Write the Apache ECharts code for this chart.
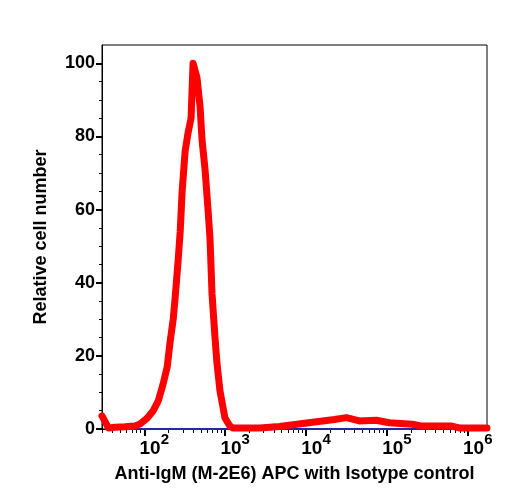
<!DOCTYPE html>
<html>
<head>
<meta charset="utf-8">
<script src="https://cdn.jsdelivr.net/npm/echarts@6/dist/echarts.min.js"></script>
<style>
  html, body { margin: 0; padding: 0; background: #fff; }
  #chart { width: 508px; height: 500px; }
</style>
</head>
<body>
<div id="chart"></div>
<script>
// fluorescence intensity (log scale) and relative cell number
const redX = [30, 36, 44, 58, 77, 89, 109, 129, 149, 171, 192, 209, 228, 241, 262, 278, 294, 320, 348, 379,
  401, 449, 490, 518, 564, 614, 650, 688, 749, 792, 863, 995, 1146, 1248, 1521, 2685, 4732, 9080, 16000,
  22500, 31600, 45700, 74000, 107000, 206000, 273000, 638000, 780000, 1730000]
const redY = [3.6, 0.3, 0.5, 0.6, 0.8, 1.4, 3.0, 5.0, 7.7, 12.3, 17, 24, 30, 36, 46, 54, 65, 76, 81, 85,
  100, 96, 88, 79, 71, 60, 52, 37, 25, 18, 10.4, 3.0, 0.8, 0.3, 0.3, 0.3, 0.7, 1.5, 2.2,
  2.6, 3.1, 2.2, 2.4, 1.7, 1.3, 0.8, 0.8, 0.3, 0.3]

// isotype control, almost flat on the baseline
const blueX = [30, 34, 40, 100, 1000, 10000, 100000, 1730000]
const blueY = [2.5, 0.5, 0, 0, 0, 0, 0, 0]

const xMajorTicks = [100, 1000, 10000, 100000, 1000000]
const xMinorTicks = [30, 40, 50, 60, 70, 80, 90,
  200, 300, 400, 500, 600, 700, 800, 900,
  2000, 3000, 4000, 5000, 6000, 7000, 8000, 9000,
  20000, 30000, 40000, 50000, 60000, 70000, 80000, 90000,
  200000, 300000, 400000, 500000, 600000, 700000, 800000, 900000]
const yMajorTicks = [0, 20, 40, 60, 80, 100]
const yMinorTicks = [5, 10, 15, 25, 30, 35, 45, 50, 55, 65, 70, 75, 85, 90, 95]

const font = 'Liberation Sans, Arial, sans-serif'

const chart = echarts.init(document.getElementById('chart'))
chart.setOption({
  animation: false,
  grid: {
    left: 102,
    right: 21,
    top: 45,
    bottom: 71,
    show: true,
    borderColor: '#000',
    borderWidth: 1
  },
  xAxis: [{
    type: 'log',
    min: 30,
    max: 1730000,
    name: 'Anti-IgM (M-2E6) APC with Isotype control',
    nameLocation: 'middle',
    nameGap: 36,
    nameTextStyle: { fontFamily: font, fontWeight: 'bold', fontSize: 18, color: '#000' },
    axisLine: { lineStyle: { color: '#000', width: 1 } },
    axisTick: { customValues: xMajorTicks, length: 7, lineStyle: { color: '#000', width: 2 } },
    splitLine: { show: false },
    axisLabel: {
      customValues: xMajorTicks,
      margin: 3,
      padding: [0, 0, 0, 20],
      formatter: (v) => '{b|10}{s|' + Math.round(Math.log10(v)) + '}',
      rich: {
        b: { fontFamily: font, fontWeight: 'bold', fontSize: 19, color: '#000', lineHeight: 26, verticalAlign: 'bottom' },
        s: { fontFamily: font, fontWeight: 'bold', fontSize: 15, color: '#000', lineHeight: 15, verticalAlign: 'top' }
      }
    }
  }, {
    type: 'log',
    min: 30,
    max: 1730000,
    position: 'bottom',
    axisLine: { show: false },
    axisTick: { customValues: xMinorTicks, length: 4, lineStyle: { color: '#000', width: 1 } },
    axisLabel: { show: false },
    splitLine: { show: false }
  }],
  yAxis: [{
    type: 'value',
    min: 0,
    max: 105,
    name: 'Relative cell number',
    nameLocation: 'middle',
    nameGap: 52,
    nameTextStyle: { fontFamily: font, fontWeight: 'bold', fontSize: 18, color: '#000' },
    axisLine: { show: true, lineStyle: { color: '#000', width: 1 } },
    axisTick: { show: true, customValues: yMajorTicks, length: 6, lineStyle: { color: '#000', width: 2 } },
    splitLine: { show: false },
    axisLabel: {
      customValues: yMajorTicks,
      margin: 7,
      fontFamily: font,
      fontWeight: 'bold',
      fontSize: 18,
      color: '#000'
    }
  }, {
    type: 'value',
    min: 0,
    max: 105,
    position: 'left',
    axisLine: { show: false },
    axisTick: { show: true, customValues: yMinorTicks, length: 3, lineStyle: { color: '#000', width: 1 } },
    axisLabel: { show: false },
    splitLine: { show: false }
  }],
  series: [{
    name: 'Isotype control',
    type: 'line',
    showSymbol: false,
    z: 2,
    data: blueX.map((x, i) => [x, blueY[i]]),
    lineStyle: { color: '#2626a8', width: 2 }
  }, {
    name: 'Anti-IgM (M-2E6) APC',
    type: 'line',
    showSymbol: false,
    z: 3,
    data: redX.map((x, i) => [x, redY[i]]),
    lineStyle: { color: '#ff0000', width: 7, join: 'round', cap: 'round' }
  }]
})
</script>
</body>
</html>
